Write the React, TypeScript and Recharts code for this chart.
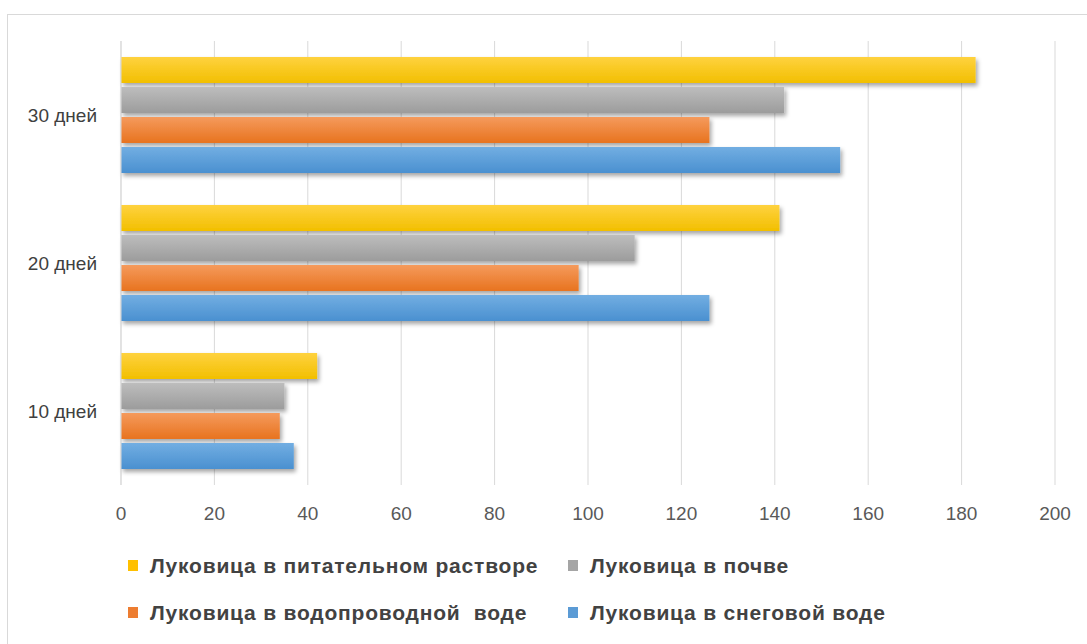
import { BarChart, Bar, XAxis, YAxis, CartesianGrid, Legend } from 'recharts';

// сроки наблюдения (сверху вниз)
const periods = ['30 дней', '20 дней', '10 дней'];

// длина корней по вариантам опыта
const nutrient = [183, 141, 42];
const soil = [142, 110, 35];
const tapWater = [126, 98, 34];
const snowWater = [154, 126, 37];

const xTicks = [0, 20, 40, 60, 80, 100, 120, 140, 160, 180, 200];

const series = [
  { key: 'nutrient', name: 'Луковица в питательном растворе', top: '#ffd23f', bottom: '#f2bf00', legend: '#ffc000' },
  { key: 'soil', name: 'Луковица в почве', top: '#bdbdbd', bottom: '#9c9c9c', legend: '#a5a5a5' },
  { key: 'tapWater', name: 'Луковица в водопроводной  воде', top: '#f59a5c', bottom: '#e8731f', legend: '#ed7d31' },
  { key: 'snowWater', name: 'Луковица в снеговой воде', top: '#72aee2', bottom: '#4a90d0', legend: '#5b9bd5' },
];

const data = periods.map((p, i) => ({
  period: p,
  nutrient: nutrient[i],
  soil: soil[i],
  tapWater: tapWater[i],
  snowWater: snowWater[i],
}));

const font = '"Liberation Sans", Arial, sans-serif';

// легенда в две колонки, порядок как у рядов
const renderLegend = () => (
  <div
    style={{
      display: 'grid',
      gridTemplateColumns: '440px 380px',
      rowGap: 24,
      fontFamily: font,
      fontSize: 21,
      fontWeight: 'bold',
      letterSpacing: 0.8,
      color: '#424242',
    }}
  >
    {series.map((s) => (
      <div key={s.key} style={{ display: 'flex', alignItems: 'center', height: 23, whiteSpace: 'pre' }}>
        <span style={{ width: 10, height: 11, background: s.legend, marginRight: 12 }} />
        <span>{s.name}</span>
      </div>
    ))}
  </div>
);

export default function App() {
  return (
    <div style={{ position: 'absolute', left: 0, top: 0, width: 1087, height: 644, background: '#fff', overflow: 'hidden' }}>
      <div
        style={{
          position: 'absolute',
          left: 7,
          top: 14,
          width: 1100,
          height: 660,
          border: '1px solid #d9d9d9',
        }}
      />
      <BarChart
        width={1087}
        height={644}
        data={data}
        layout="vertical"
        margin={{ top: 41, right: 32, bottom: 119, left: 0 }}
        barCategoryGap={16}
        barGap={4}
        style={{ position: 'absolute', left: 0, top: 0 }}
      >
        <defs>
          {series.map((s) => (
            <linearGradient key={s.key} id={`grad-${s.key}`} x1="0" y1="0" x2="0" y2="1">
              <stop offset="0%" stopColor={s.top} />
              <stop offset="100%" stopColor={s.bottom} />
            </linearGradient>
          ))}
          <filter id="barShadow" x="-5%" y="-30%" width="110%" height="170%">
            <feDropShadow dx="2" dy="3" stdDeviation="2" floodColor="#000" floodOpacity="0.35" />
          </filter>
        </defs>
        <CartesianGrid horizontal={false} stroke="#d9d9d9" />
        <XAxis
          type="number"
          domain={[0, 200]}
          ticks={xTicks}
          axisLine={false}
          tickLine={false}
          tickSize={0}
          tickMargin={22}
          height={40}
          tick={{ fill: '#595959', fontSize: 19, fontFamily: font }}
        />
        <YAxis
          type="category"
          dataKey="period"
          width={121}
          axisLine={{ stroke: '#d9d9d9' }}
          tickLine={false}
          tickSize={0}
          tickMargin={24}
          tick={{ fill: '#404040', fontSize: 19, fontFamily: font }}
        />
        {series.map((s) => (
          <Bar
            key={s.key}
            dataKey={s.key}
            name={s.name}
            fill={`url(#grad-${s.key})`}
            filter="url(#barShadow)"
            isAnimationActive={false}
          />
        ))}
        <Legend
          layout="horizontal"
          verticalAlign="middle"
          align="center"
          wrapperStyle={{ top: 554, left: 128, width: 840 }}
          content={renderLegend}
        />
      </BarChart>
    </div>
  );
}
